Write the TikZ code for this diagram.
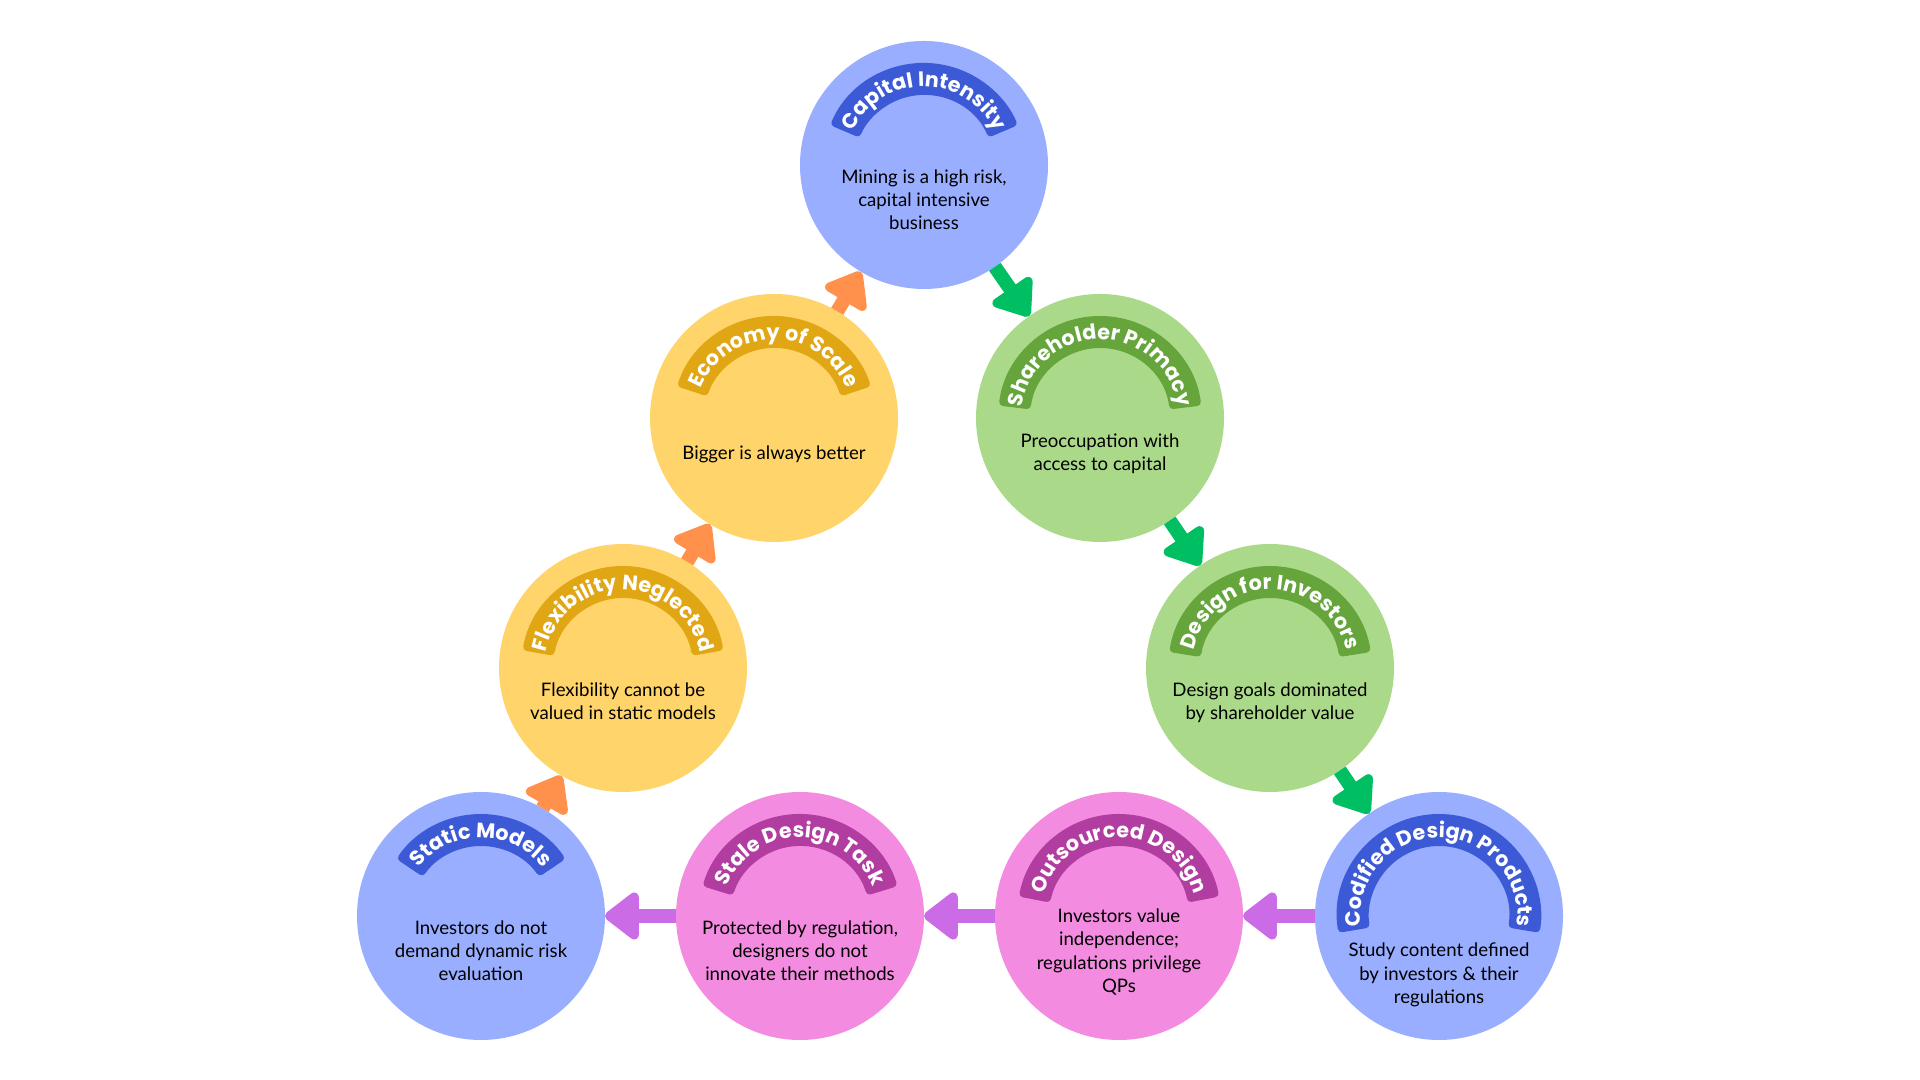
\documentclass[tikz,border=0pt]{standalone}
\usepackage{fontspec}
\setmainfont{Lato}
\newfontfamily\bannerfont{Poppins}
\usetikzlibrary{arrows.meta,decorations.text,calc}
\definecolor{bluefill}{HTML}{99AEFF}
\definecolor{blueband}{HTML}{3D5AD6}
\definecolor{yellowfill}{HTML}{FFD56B}
\definecolor{yellowband}{HTML}{E0A614}
\definecolor{greenfill}{HTML}{ABD98A}
\definecolor{greenband}{HTML}{66A53B}
\definecolor{pinkfill}{HTML}{F38CE0}
\definecolor{pinkband}{HTML}{B23DA0}
\definecolor{arrgreen}{HTML}{00BF63}
\definecolor{arrorange}{HTML}{FF914D}
\definecolor{arrpurple}{HTML}{CB6CE6}
\tikzset{
    bubble/.style={circle, minimum size=2.48cm, inner sep=0pt, outer sep=0pt},
    body/.style={align=center, font=\fontsize{5.3}{6.6}\selectfont},
    link/.style={->, line width=1.4mm}
}
\begin{document}
\begin{tikzpicture}[>={Triangle[length=3.7mm, width=5.4mm, round]}]
\useasboundingbox (0,0) rectangle (19.2,10.8);
\foreach \n/\x/\y/\cf/\cb/\h/\d/\s/\t in {
    cap/9.24/9.15/bluefill/blueband/67/0.35/{Capital Intensity}/{Mining is a high risk,\\capital intensive\\business},
    share/11.00/6.62/greenfill/greenband/83/0.36/{Shareholder Primacy}/{Preoccupation with\\access to capital},
    dinv/12.70/4.12/greenfill/greenband/81/0.35/{Design for Investors}/{Design goals dominated\\by shareholder value},
    cod/14.39/1.64/bluefill/blueband/99.5/0.59/{Codified Design Products}/{Study content defined\\by investors \& their\\regulations},
    outs/11.19/1.64/pinkfill/pinkband/79/0.36/{Outsourced Design}/{Investors value\\independence;\\regulations privilege\\QPs},
    stale/8.00/1.64/pinkfill/pinkband/73/0.35/{Stale Design Task}/{Protected by regulation,\\designers do not\\innovate their methods},
    stat/4.81/1.64/bluefill/blueband/56/0.35/{Static Models}/{Investors do not\\demand dynamic risk\\evaluation},
    flex/6.23/4.12/yellowfill/yellowband/80/0.33/{Flexibility Neglected}/{Flexibility cannot be\\valued in static models},
    econ/7.74/6.62/yellowfill/yellowband/72/0.36/{Economy of Scale}/{Bigger is always better}}
{
    \node[bubble, fill=\cf] (\n) at (\x,\y) {};
    % banner arc
    \fill[\cb, rounded corners=0.4mm] ($(\n)+(90+\h:1.02)$) arc[start angle=90+\h, end angle=90-\h, radius=1.02]
        -- ($(\n)+(90-\h:0.70)$) arc[start angle=90-\h, end angle=90+\h, radius=0.70] -- cycle;
    {\bannerfont\bfseries\fontsize{5.9}{7}\selectfont
    \path[decorate, decoration={text along path, text align=center, text color=white, text/.expand once=\s}]
        ($(\n)+(205:0.785)$) arc[start angle=205, end angle=-25, radius=0.785];}
    \node[body] (\n txt) at ($(\n)+(0,-\d)$) {\t};
}
\foreach \a/\b/\c in {cap/share/arrgreen, share/dinv/arrgreen, dinv/cod/arrgreen,
    cod/outs/arrpurple, outs/stale/arrpurple, stale/stat/arrpurple,
    stat/flex/arrorange, flex/econ/arrorange, econ/cap/arrorange}
{
    \draw[link, \c] (\a) -- (\b);
}
\end{tikzpicture}
\end{document}
